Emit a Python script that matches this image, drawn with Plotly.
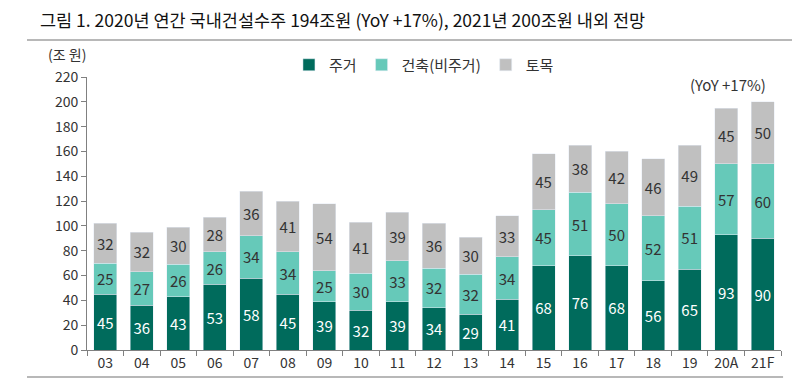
import plotly.graph_objects as go

categories = ["03","04","05","06","07","08","09","10","11","12","13","14","15","16","17","18","19","20A","21F"]
housing = [45,36,43,53,58,45,39,32,39,34,29,41,68,76,68,56,65,93,90]
building = [25,27,26,26,34,34,25,30,33,32,32,34,45,51,50,52,51,57,60]
civil = [32,32,30,28,36,41,54,41,39,36,30,33,45,38,42,46,49,45,50]
y_ticks = [0,20,40,60,80,100,120,140,160,180,200,220]

FONT = "Noto Sans CJK KR"
fig = go.Figure()
fig.add_bar(name="주거", x=categories, y=housing, marker_color="#006b5c",
            text=housing, textposition="inside", insidetextanchor="middle",
            textfont=dict(color="white", size=15, family=FONT))
fig.add_bar(name="건축(비주거)", x=categories, y=building, marker_color="#66c9b9",
            text=building, textposition="inside", insidetextanchor="middle",
            textfont=dict(color="#333333", size=15, family=FONT))
fig.add_bar(name="토목", x=categories, y=civil, marker_color="#c0c0c0",
            text=civil, textposition="inside", insidetextanchor="middle",
            textfont=dict(color="#333333", size=15, family=FONT))

fig.update_layout(
    barmode="stack", bargap=0.37,
    width=800, height=382,
    margin=dict(l=79, r=27, t=69, b=40),
    plot_bgcolor="white", paper_bgcolor="white",
    font=dict(family=FONT, color="#333333", size=14),
    showlegend=True,
    legend=dict(orientation="h", x=0.291, y=1.044, xanchor="left", yanchor="middle",
                font=dict(size=15, family=FONT), itemwidth=30, traceorder="normal",
                bgcolor="rgba(0,0,0,0)"),
    xaxis=dict(type="category", showline=True, linecolor="#808080", linewidth=1,
               ticks="outside", tickson="boundaries", ticklen=5, tickcolor="#808080",
               tickfont=dict(size=14), showgrid=False),
    yaxis=dict(range=[0,220], tickvals=y_ticks, showline=True, linecolor="#808080",
               linewidth=1, ticks="outside", ticklen=5, tickcolor="#808080",
               tickfont=dict(size=14), showgrid=False, zeroline=False),
)

fig.add_annotation(text="그림 1. 2020년 연간 국내건설수주 194조원 (YoY +17%), 2021년 200조원 내외 전망",
                   xref="paper", yref="paper", x=-0.0706, y=1.2088, xanchor="left", yanchor="middle",
                   showarrow=False, font=dict(size=17.5, color="#111111", family=FONT))
fig.add_annotation(text="(조 원)", xref="paper", yref="paper", x=-0.059, y=1.085,
                   xanchor="left", yanchor="middle", showarrow=False,
                   font=dict(size=14, color="#333333", family=FONT))
fig.add_annotation(text="(YoY +17%)", xref="paper", yref="paper", x=0.866, y=0.974,
                   xanchor="left", yanchor="middle", showarrow=False,
                   font=dict(size=15, color="#333333", family=FONT))
fig.add_shape(type="line", xref="paper", yref="paper", x0=-0.0865, x1=1.027, y0=1.1355, y1=1.1355,
              line=dict(color="#a0a0a0", width=1.5))
fig.add_shape(type="line", xref="paper", yref="paper", x0=-0.0865, x1=1.003, y0=-0.0989, y1=-0.0989,
              line=dict(color="#a0a0a0", width=1.5))

fig.write_html("out.html")
